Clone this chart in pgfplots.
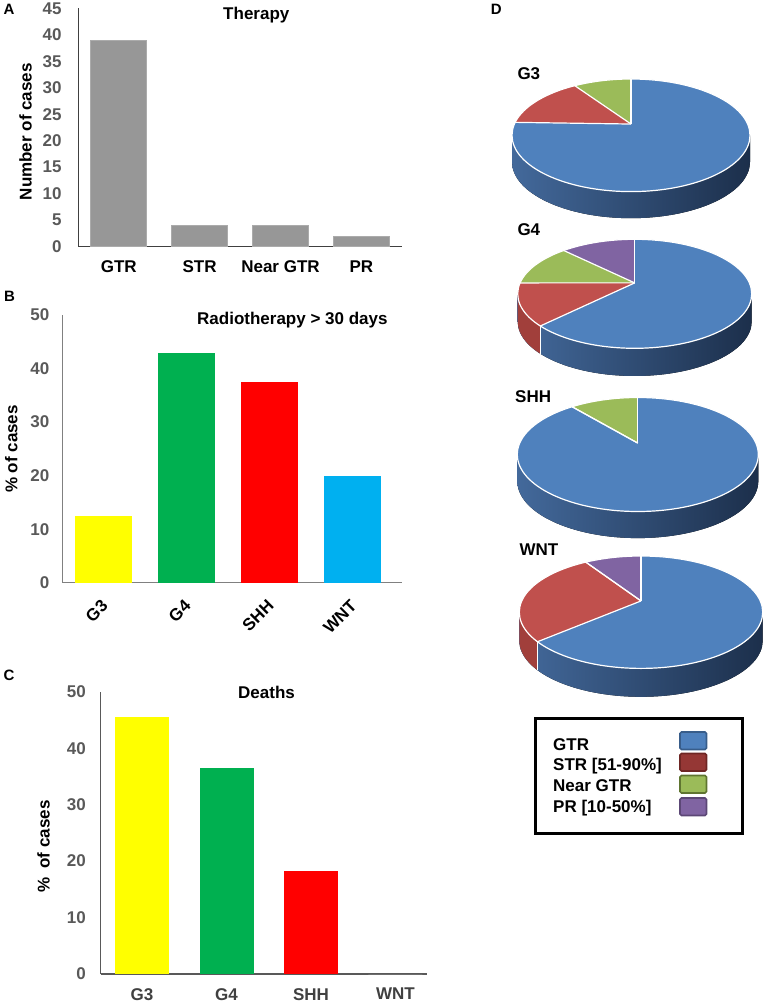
\documentclass[border=0pt]{standalone}
\usepackage{pgfplots}
\pgfplotsset{compat=1.18}
\usepackage{pgfplotstable}
\usepackage{fontspec}
\setmainfont{Liberation Sans}

\definecolor{barGrey}{HTML}{979797}
\definecolor{barEdge}{HTML}{ABABAB}
\definecolor{tickGrey}{HTML}{595959}
\definecolor{axA}{HTML}{404040}
\definecolor{axB}{HTML}{808080}
\definecolor{axC}{HTML}{595959}
\definecolor{labC}{HTML}{404040}
\definecolor{cYellow}{HTML}{FFFF00}
\definecolor{cGreen}{HTML}{00B050}
\definecolor{cRed}{HTML}{FF0000}
\definecolor{cCyan}{HTML}{00B0F0}
\definecolor{pBlue}{HTML}{4F81BD}
\definecolor{pRed}{HTML}{C0504D}
\definecolor{pGreen}{HTML}{9BBB59}
\definecolor{pPurple}{HTML}{8064A2}
\definecolor{sideBlueL}{HTML}{43699B}
\definecolor{sideBlueR}{HTML}{1C2F4B}
\definecolor{sideRed}{HTML}{A13F3B}
\definecolor{sideGreen}{HTML}{7C9A42}
\definecolor{sidePurple}{HTML}{664F86}
\definecolor{lgBlue}{HTML}{4F81BD}
\definecolor{lgBlueE}{HTML}{385D8A}
\definecolor{lgRed}{HTML}{953735}
\definecolor{lgRedE}{HTML}{6E2624}
\definecolor{lgGreen}{HTML}{9BBB59}
\definecolor{lgGreenE}{HTML}{5F7530}
\definecolor{lgPurple}{HTML}{8064A2}
\definecolor{lgPurpleE}{HTML}{5C4776}

\newcommand\lbl{\fontsize{17}{20}\selectfont\bfseries}
\newcommand\pan{\fontsize{15}{18}\selectfont\bfseries}

% resection type per molecular group, % of cases (clockwise from 12 o'clock)
\pgfplotstableread{
group GTR STR Near PR
G3  75.5 15.0 9.5 0
G4  62.5 12.5 12.5 12.5
SHH 88.9 0 11.1 0
WNT 63.6 27.3 0 9.1
}\piedata

% ---------- 3D pie helpers ----------
\newcommand\PieK{0.2}
\newcommand\PieTheta[2]{%
  \pgfmathsetmacro\PieTmp{atan2(\PieK+sin(#1),sqrt(1-\PieK*\PieK)*cos(#1))-(#1)}%
  \pgfmathsetmacro#2{(#1)+\PieTmp-360*round(\PieTmp/360)}%
}
\newcommand\PiePt[1]{%
  \pgfmathsetmacro\PieX{\PieCx+\PieRx*cos(#1)}%
  \pgfmathsetmacro\PieY{\PieCy+\PieRy*sin(#1)}%
}
\newcommand\PieTop[3]{%
  \PiePt{#1}%
  \fill[#3] (axis cs:\PieCx,\PieAy) -- (axis cs:\PieX,\PieY)
    arc[start angle=#1,end angle=#2,x radius=\PieRx pt,y radius=\PieRy pt] -- cycle;
}
\newcommand\PieSide[3]{%
  \pgfmathsetmacro\PieHi{min(#1,0)}%
  \pgfmathsetmacro\PieLo{max(#2,-180)}%
  \pgfmathparse{(\PieHi-\PieLo>0.05)?1:0}%
  \ifdim\pgfmathresult pt>0.5pt
    \PiePt{\PieHi}%
    \fill[#3] (axis cs:\PieX,\PieY)
      arc[start angle=\PieHi,end angle=\PieLo,x radius=\PieRx pt,y radius=\PieRy pt]
      -- ++(0pt,-\PieD pt)
      arc[start angle=\PieLo,end angle=\PieHi,x radius=\PieRx pt,y radius=\PieRy pt] -- cycle;
  \fi
}
\newcommand\PieLine[1]{%
  \PiePt{#1}%
  \draw[white,line width=1.2pt] (axis cs:\PieCx,\PieAy) -- (axis cs:\PieX,\PieY);
}
\newcommand\PieVLine[1]{%
  \pgfmathparse{((#1<-0.5) && (#1>-179.5))?1:0}%
  \ifdim\pgfmathresult pt>0.5pt
    \PiePt{#1}%
    \draw[white,line width=1pt] (axis cs:\PieX,\PieY) -- ++(0pt,-\PieD pt);
  \fi
}
% #1 row, #2 cx, #3 ellipse centre y (px from top), #4 rx, #5 ry, #6 depth
\newcommand\ThreeDPie[6]{%
  \pgfplotstablegetelem{#1}{GTR}\of\piedata\let\PieVa\pgfplotsretval
  \pgfplotstablegetelem{#1}{STR}\of\piedata\let\PieVb\pgfplotsretval
  \pgfplotstablegetelem{#1}{Near}\of\piedata\let\PieVc\pgfplotsretval
  \pgfmathsetmacro\PieCx{#2}\pgfmathsetmacro\PieCy{-(#3)}%
  \pgfmathsetmacro\PieRx{#4}\pgfmathsetmacro\PieRy{#5}\pgfmathsetmacro\PieD{#6}%
  \pgfmathsetmacro\PieAy{\PieCy+\PieRy*\PieK}%
  \pgfmathsetmacro\PieFb{90-3.6*\PieVa}%
  \pgfmathsetmacro\PieFc{\PieFb-3.6*\PieVb}%
  \pgfmathsetmacro\PieFd{\PieFc-3.6*\PieVc}%
  \PieTheta{90}\PieTa
  \PieTheta{\PieFb}\PieTb
  \PieTheta{\PieFc}\PieTc
  \PieTheta{\PieFd}\PieTd
  \def\PieTe{-270}%
  \PieSide{0}{-180}{left color=sideBlueL,right color=sideBlueR}%
  \PieSide{\PieTb}{\PieTc}{sideRed}%
  \PieSide{\PieTc}{\PieTd}{sideGreen}%
  \PieSide{\PieTd}{\PieTe}{sidePurple}%
  \PieTop{\PieTa}{\PieTb}{pBlue}%
  \PieTop{\PieTb}{\PieTc}{pRed}%
  \PieTop{\PieTc}{\PieTd}{pGreen}%
  \PieTop{\PieTd}{\PieTe}{pPurple}%
  \draw[white,line width=1.2pt] (axis cs:\PieCx,\PieCy) ellipse[x radius=\PieRx pt,y radius=\PieRy pt];
  \PieLine{\PieTa}\PieLine{\PieTb}\PieLine{\PieTc}\PieLine{\PieTd}%
  \PieVLine{\PieTb}\PieVLine{\PieTc}\PieVLine{\PieTd}%
}

\begin{document}
\begin{tikzpicture}[x=1pt,y=1pt]
\path[use as bounding box] (0pt,0pt) rectangle (765pt,-1003pt);

% ---------------- A ----------------
\begin{axis}[
  at={(78.3pt,-246.7pt)}, anchor=south west,
  scale only axis, width=323.5pt, height=238.4pt,
  xmin=-0.5, xmax=3.5, ymin=0, ymax=45,
  axis lines=left, axis line style={-, draw=axA, line width=1.2pt},
  major tick length=0pt,
  xtick={0,1,2,3}, xticklabels={GTR,STR,Near GTR,PR},
  ytick={0,5,...,45},
  /pgf/number format/assume math mode=true,
  ticklabel style={font=\lbl},
  yticklabel style={text=tickGrey, inner sep=0pt, anchor=east, xshift=-16.6pt},
  xticklabel style={text=black, inner sep=0pt, anchor=north, yshift=-14pt},
  title={Therapy},
  title style={font=\lbl, at={(axis description cs:0.5502,0.9258)}, anchor=base, yshift=0pt},
  ylabel={Number of cases},
  ylabel style={font=\lbl, at={(axis description cs:-0.1441,0.4824)}, anchor=base},
  bar width=0.69,
]
\addplot[ybar, bar shift=0pt, fill=barGrey, draw=barEdge, line width=0.8pt] coordinates {(0,39) (1,4) (2,4) (3,2)};
\end{axis}

% ---------------- B ----------------
\begin{axis}[
  at={(62.2pt,-582.7pt)}, anchor=south west,
  scale only axis, width=339.5pt, height=267.7pt,
  xmin=-0.5, xmax=3.59, ymin=0, ymax=50,
  axis lines=left, axis line style={-, draw=axB, line width=1.2pt},
  major tick length=0pt,
  xtick={0,1,2,3}, xticklabels={G3,G4,SHH,WNT},
  ytick={0,10,...,50},
  /pgf/number format/assume math mode=true,
  ticklabel style={font=\lbl},
  yticklabel style={text=tickGrey, inner sep=0pt, anchor=east, xshift=-12.7pt},
  xticklabel style={text=black, inner sep=0pt, anchor=east, xshift=1pt, yshift=-20pt, rotate=45},
  title={Radiotherapy > 30 days},
  title style={font=\lbl, at={(axis description cs:0.678,0.944)}, anchor=base, yshift=0pt},
  ylabel={\% of cases},
  ylabel style={font=\lbl, at={(axis description cs:-0.1317,0.4994)}, anchor=base},
  bar width=0.69,
]
\addplot[ybar, bar shift=0pt, fill=cYellow, draw=none] coordinates {(0,12.5)};
\addplot[ybar, bar shift=0pt, fill=cGreen, draw=none] coordinates {(1,42.9)};
\addplot[ybar, bar shift=0pt, fill=cRed, draw=none] coordinates {(2,37.5)};
\addplot[ybar, bar shift=0pt, fill=cCyan, draw=none] coordinates {(3,20)};
\end{axis}

% ---------------- C ----------------
\begin{axis}[
  at={(100.7pt,-974pt)}, anchor=south west,
  scale only axis, width=326pt, height=282.3pt,
  xmin=-0.49, xmax=3.37, ymin=0, ymax=50,
  axis lines=left, axis line style={-, draw=axC, line width=1.2pt},
  major tick length=0pt,
  xtick={0,1,2,3}, xticklabels={G3,G4,SHH,WNT},
  ytick={0,10,...,50},
  /pgf/number format/assume math mode=true,
  ticklabel style={font=\lbl},
  yticklabel style={text=tickGrey, inner sep=0pt, anchor=east, xshift=-14.7pt},
  xticklabel style={text=labC, inner sep=0pt, anchor=north, yshift=-14pt},
  title={Deaths},
  title style={font=\lbl, at={(axis description cs:0.5086,0.953)}, anchor=base, yshift=0pt},
  ylabel={\%\ \ of cases},
  ylabel style={font=\lbl, at={(axis description cs:-0.157,0.451)}, anchor=base},
  bar width=0.64,
]
\addplot[ybar, bar shift=0pt, fill=cYellow, draw=none] coordinates {(0,45.5)};
\addplot[ybar, bar shift=0pt, fill=cGreen, draw=none] coordinates {(1,36.4)};
\addplot[ybar, bar shift=0pt, fill=cRed, draw=none] coordinates {(2,18.2)};
\addplot[ybar, bar shift=0pt, fill=white, draw=none] coordinates {(3,0)};
\end{axis}

% ---------------- D ----------------
\begin{axis}[
  at={(480pt,-1003pt)}, anchor=south west,
  scale only axis, width=285pt, height=1003pt,
  xmin=480, xmax=765, ymin=-1003, ymax=0,
  hide axis, clip=false,
]
\pgfplotsextra{%
  \ThreeDPie{0}{631}{135.3}{119}{56.3}{26.6}%
  \ThreeDPie{1}{634.7}{293.8}{117}{54.5}{27.7}%
  \ThreeDPie{2}{637.8}{454.5}{120.5}{57}{26.6}%
  \ThreeDPie{3}{641}{612.2}{121.7}{56.2}{28.4}%
}
\end{axis}

% pie group labels
\node[font=\lbl, anchor=base west, inner sep=0pt] at (517.3pt,-80pt) {G3};
\node[font=\lbl, anchor=base west, inner sep=0pt] at (517.3pt,-235pt) {G4};
\node[font=\lbl, anchor=base west, inner sep=0pt] at (515pt,-402.7pt) {SHH};
\node[font=\lbl, anchor=base west, inner sep=0pt] at (519.3pt,-555pt) {WNT};

% legend
\draw[black, line width=3pt] (535.7pt,-718.3pt) rectangle (742.7pt,-833.3pt);
\node[font=\lbl, anchor=base west, inner sep=0pt] at (553pt,-750pt) {GTR};
\node[font=\lbl, anchor=base west, inner sep=0pt] at (553pt,-770.5pt) {STR [51-90\%]};
\node[font=\lbl, anchor=base west, inner sep=0pt] at (553pt,-791.7pt) {Near GTR};
\node[font=\lbl, anchor=base west, inner sep=0pt] at (553pt,-812pt) {PR [10-50\%]};
\filldraw[fill=lgBlue, draw=lgBlueE, line width=1.6pt, rounded corners=1.5pt] (680pt,-732pt) rectangle (706.5pt,-749.5pt);
\filldraw[fill=lgRed, draw=lgRedE, line width=1.6pt, rounded corners=1.5pt] (680pt,-753.5pt) rectangle (706.5pt,-771pt);
\filldraw[fill=lgGreen, draw=lgGreenE, line width=1.6pt, rounded corners=1.5pt] (680pt,-775.5pt) rectangle (706.5pt,-793pt);
\filldraw[fill=lgPurple, draw=lgPurpleE, line width=1.6pt, rounded corners=1.5pt] (680pt,-798pt) rectangle (706.5pt,-815.5pt);

% panel letters
\node[font=\pan, anchor=base west, inner sep=0pt] at (3.3pt,-15pt) {A};
\node[font=\pan, anchor=base west, inner sep=0pt] at (4pt,-301.7pt) {B};
\node[font=\pan, anchor=base west, inner sep=0pt] at (3.3pt,-680.7pt) {C};
\node[font=\pan, anchor=base west, inner sep=0pt] at (490.7pt,-15pt) {D};
\end{tikzpicture}
\end{document}
